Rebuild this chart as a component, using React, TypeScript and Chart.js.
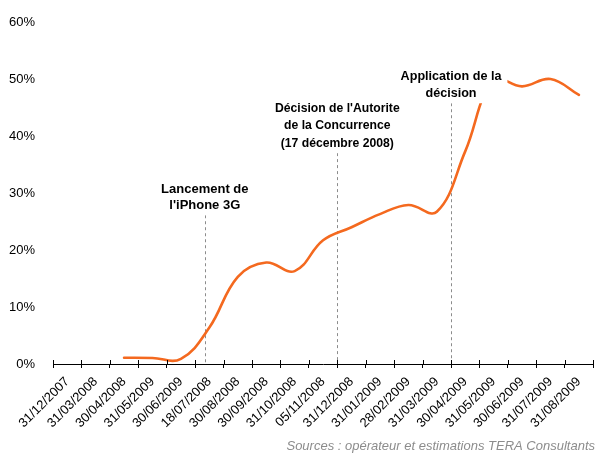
import React, { useEffect, useRef } from 'react';
import { Chart, registerables } from 'chart.js';

Chart.register(...registerables);

const categories = [
  '31/12/2007', '31/03/2008', '30/04/2008', '31/05/2009', '30/06/2009',
  '18/07/2008', '30/08/2008', '30/09/2008', '31/10/2008', '05/11/2008',
  '31/12/2008', '31/01/2009', '28/02/2009', '31/03/2009', '30/04/2009',
  '31/05/2009', '30/06/2009', '31/07/2009', '31/08/2009',
];
const shareValues: (number | null)[] = [
  null, null, 1.1, 1.05, 0.9, 6.4, 15.3, 17.8, 16.3, 21.7,
  24.0, 26.3, 27.9, 26.7, 37.3, 49.8, 48.7, 50.0, 47.2,
];
const yMin = 0;
const yMax = 60;
const yStep = 10;

const eventLabels = [
  ['Lancement de', "l'iPhone 3G"],
  ["Décision de l'Autorite", 'de la Concurrence', '(17 décembre 2008)'],
  ['Application de la', 'décision'],
];
const eventPositions = [4.84, 9.5, 13.5];
const eventLabelLevels = [26.1, 37.0, 45.75];
const eventFontSizes = [13, 12.2, 12.6];
const eventLineHeights = [16.5, 17.5, 17.3];
const sourceText = 'Sources : opérateur et estimations TERA Consultants';

const FAMILY = '"Liberation Sans", Arial, Helvetica, sans-serif';
const LINE_COLOR = '#f4691f';

const annotationPlugin = {
  id: 'annotations',
  beforeDatasetsDraw(chart: any) {
    const { ctx, chartArea, scales } = chart;
    const xs = scales.x;
    const ys = scales.y;
    ctx.save();
    ctx.strokeStyle = '#8c8c8c';
    ctx.lineWidth = 1;
    ctx.setLineDash([3, 3]);
    eventPositions.forEach((p, i) => {
      const x = Math.round(xs.getPixelForValue(p)) + 0.5;
      const yb = ys.getPixelForValue(eventLabelLevels[i]);
      ctx.beginPath();
      ctx.moveTo(x, yb);
      ctx.lineTo(x, chartArea.bottom);
      ctx.stroke();
    });
    ctx.restore();
  },
  afterDatasetsDraw(chart: any) {
    const { ctx, scales } = chart;
    const xs = scales.x;
    const ys = scales.y;
    ctx.save();
    eventPositions.forEach((p, i) => {
      ctx.font = `bold ${eventFontSizes[i]}px ${FAMILY}`;
      const lh = eventLineHeights[i];
      const x = xs.getPixelForValue(p);
      const yb = ys.getPixelForValue(eventLabelLevels[i]);
      const lines = eventLabels[i];
      const w = Math.max(...lines.map((l) => ctx.measureText(l).width)) + 12;
      const lastY = yb - 9.5;
      const firstY = lastY - lh * (lines.length - 1);
      ctx.fillStyle = '#ffffff';
      ctx.fillRect(x - w / 2, firstY - 10, w, yb - (firstY - 10));
      ctx.fillStyle = '#000000';
      ctx.textAlign = 'center';
      ctx.textBaseline = 'middle';
      lines.forEach((l, j) => ctx.fillText(l, x, firstY + j * lh));
    });
    ctx.restore();
  },
  afterDraw(chart: any) {
    const { ctx, chartArea, scales } = chart;
    const xs = scales.x;
    ctx.save();
    ctx.strokeStyle = '#000000';
    ctx.lineWidth = 1;
    for (let k = 0; k <= categories.length; k++) {
      const x = Math.round(xs.getPixelForValue(k - 0.5)) + 0.5;
      ctx.beginPath();
      ctx.moveTo(x, chartArea.bottom - 4);
      ctx.lineTo(x, chartArea.bottom);
      ctx.stroke();
    }
    ctx.font = `italic 13px ${FAMILY}`;
    ctx.fillStyle = '#8c8c8c';
    ctx.textAlign = 'right';
    ctx.textBaseline = 'middle';
    ctx.fillText(sourceText, chart.width - 1, 446);
    ctx.restore();
  },
};

export default function App() {
  const canvasRef = useRef<HTMLCanvasElement | null>(null);

  useEffect(() => {
    if (!canvasRef.current) return;
    const chart = new Chart(canvasRef.current, {
      type: 'line',
      data: {
        labels: categories,
        datasets: [
          {
            data: shareValues,
            borderColor: LINE_COLOR,
            backgroundColor: LINE_COLOR,
            borderWidth: 2.6,
            pointRadius: 0,
            tension: 0.4,
            fill: false,
            borderCapStyle: 'round',
          },
        ],
      },
      options: {
        responsive: false,
        animation: false,
        devicePixelRatio: 1,
        layout: { padding: { top: 22, right: 1.5, left: 0, bottom: 0 } },
        plugins: { legend: { display: false }, tooltip: { enabled: false }, title: { display: false } },
        scales: {
          x: {
            offset: true,
            grid: { offset: true, drawOnChartArea: false, drawTicks: true, tickLength: 4, color: '#000' },
            border: { display: true, color: '#000', width: 1 },
            ticks: {
              autoSkip: false,
              maxRotation: 45,
              minRotation: 45,
              color: '#000',
              padding: 6,
              font: { size: 13, family: FAMILY },
            },
            afterFit: (s: any) => { s.height = 89; },
          },
          y: {
            min: yMin,
            max: yMax,
            ticks: {
              stepSize: yStep,
              callback: (v: any) => `${v}%`,
              color: '#000',
              padding: 10,
              font: { size: 13, family: FAMILY },
            },
            grid: { display: false },
            border: { display: false },
            afterFit: (s: any) => { s.width = 53; },
          },
        },
      },
      plugins: [annotationPlugin],
    });
    return () => chart.destroy();
  }, []);

  return (
    <div style={{ position: 'fixed', left: 0, top: 0, width: 596, height: 453, background: '#fff' }}>
      <canvas ref={canvasRef} width={596} height={453} style={{ width: 596, height: 453, display: 'block' }} />
    </div>
  );
}
